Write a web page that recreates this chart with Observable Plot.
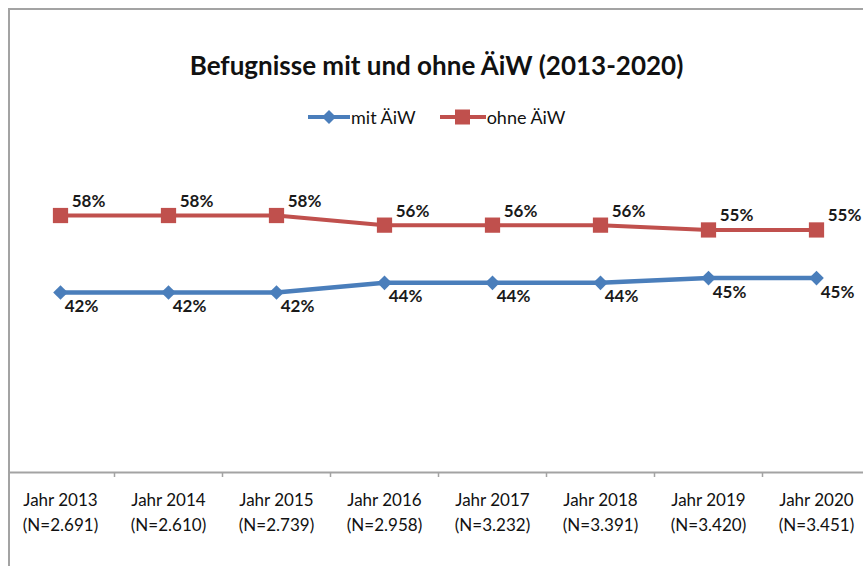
<!DOCTYPE html>
<html>
<head>
<meta charset="utf-8">
<script src="https://cdn.jsdelivr.net/npm/d3@7"></script>
<script src="https://cdn.jsdelivr.net/npm/@observablehq/plot@0.6"></script>
<style>
  html, body { margin: 0; padding: 0; background: #fff; }
  body { width: 863px; height: 566px; position: relative; overflow: hidden; font-family: Lato, "Open Sans", sans-serif; }
  #border { position: absolute; left: 8px; top: 8px; width: 900px; height: 600px; border-left: 2px solid #a3a3a3; border-top: 2px solid #a3a3a3; }
  #title { position: absolute; left: 0; width: 873px; top: 49px; line-height: 32px; text-align: center; font-weight: 700; font-size: 26px; color: #111; }
  #legend { position: absolute; left: 308px; top: 106px; height: 22px; display: flex; align-items: center; font-size: 18px; color: #111; }
  #legend .item { display: flex; align-items: center; }
  #legend .item + .item { margin-left: 24px; }
  #legend svg { display: block; }
  #chart { position: absolute; left: 0; top: 140px; }
</style>
</head>
<body>
<div id="border"></div>
<div id="title">Befugnisse mit und ohne ÄiW (2013-2020)</div>
<div id="legend"></div>
<div id="chart"></div>
<script>
const years = ["2013", "2014", "2015", "2016", "2017", "2018", "2019", "2020"];
const sampleSizes = ["2.691", "2.610", "2.739", "2.958", "3.232", "3.391", "3.420", "3.451"];
const mitAiW = [42, 42, 42, 44, 44, 44, 45, 45];
const ohneAiW = [58, 58, 58, 56, 56, 56, 55, 55];
const seriesNames = ["mit ÄiW", "ohne ÄiW"];
const seriesColors = ["#4a7ebb", "#c0504d"];

const tickLabels = years.map((y, i) => `Jahr ${y}\n(N=${sampleSizes[i]})`);

const mitData = years.map((y, i) => ({year: y, value: mitAiW[i], series: seriesNames[0]}));
const ohneData = years.map((y, i) => ({year: y, value: ohneAiW[i], series: seriesNames[1]}));

// Legend (HTML)
const legend = document.getElementById("legend");
legend.innerHTML = `
  <div class="item"><svg width="42" height="16"><line x1="0" x2="42" y1="8" y2="8" stroke="${seriesColors[0]}" stroke-width="4"/><path d="M21,1L28,8L21,15L14,8Z" fill="${seriesColors[0]}"/></svg><span style="margin-left:1px">${seriesNames[0]}</span></div>
  <div class="item"><svg width="46" height="16"><line x1="0" x2="46" y1="8" y2="8" stroke="${seriesColors[1]}" stroke-width="4"/><rect x="15" y="0.5" width="15" height="15" fill="${seriesColors[1]}"/></svg><span style="margin-left:1px">${seriesNames[1]}</span></div>`;

const W = 863, H = 426;
const band = (870 - 6) / years.length;

const chart = Plot.plot({
  width: W,
  height: H,
  marginLeft: 9,
  marginRight: 0,
  marginTop: 0,
  marginBottom: 94,
  style: {fontFamily: "Lato, 'Open Sans', sans-serif", background: "transparent", overflow: "visible"},
  x: {type: "band", domain: years, range: [6, 870], padding: 0, label: null},
  y: {domain: [40, 60], range: [161.6, 65.4], axis: null},
  color: {domain: seriesNames, range: seriesColors},
  marks: [
    Plot.frame({anchor: "bottom", stroke: "#a3a3a3", strokeWidth: 2}),
    Plot.axisX({tickSize: 5, dx: band / 2, tickFormat: () => "", label: null, stroke: "#a3a3a3", strokeWidth: 1.5}),
    Plot.axisX({tickSize: 0, tickPadding: 16, label: null, tickFormat: d => tickLabels[years.indexOf(d)], fontSize: 17, lineHeight: 1.45, fill: "#111"}),
    Plot.line(mitData, {x: "year", y: "value", stroke: "series", strokeWidth: 4.5}),
    Plot.line(ohneData, {x: "year", y: "value", stroke: "series", strokeWidth: 4}),
    Plot.dot(mitData, {x: "year", y: "value", fill: "series", symbol: "diamond2", r: 6.6, stroke: null}),
    Plot.dot(ohneData, {x: "year", y: "value", fill: "series", symbol: "square", r: 8.6, stroke: null}),
    Plot.text(mitData, {x: "year", y: "value", text: d => `${d.value}%`, dx: 21, dy: 14, fontSize: 17, fontWeight: "bold", fill: "#1a1a1a"}),
    Plot.text(ohneData, {x: "year", y: "value", text: d => `${d.value}%`, dx: 28, dy: -14, fontSize: 17, fontWeight: "bold", fill: "#1a1a1a"})
  ]
});
document.getElementById("chart").appendChild(chart);
</script>
</body>
</html>
